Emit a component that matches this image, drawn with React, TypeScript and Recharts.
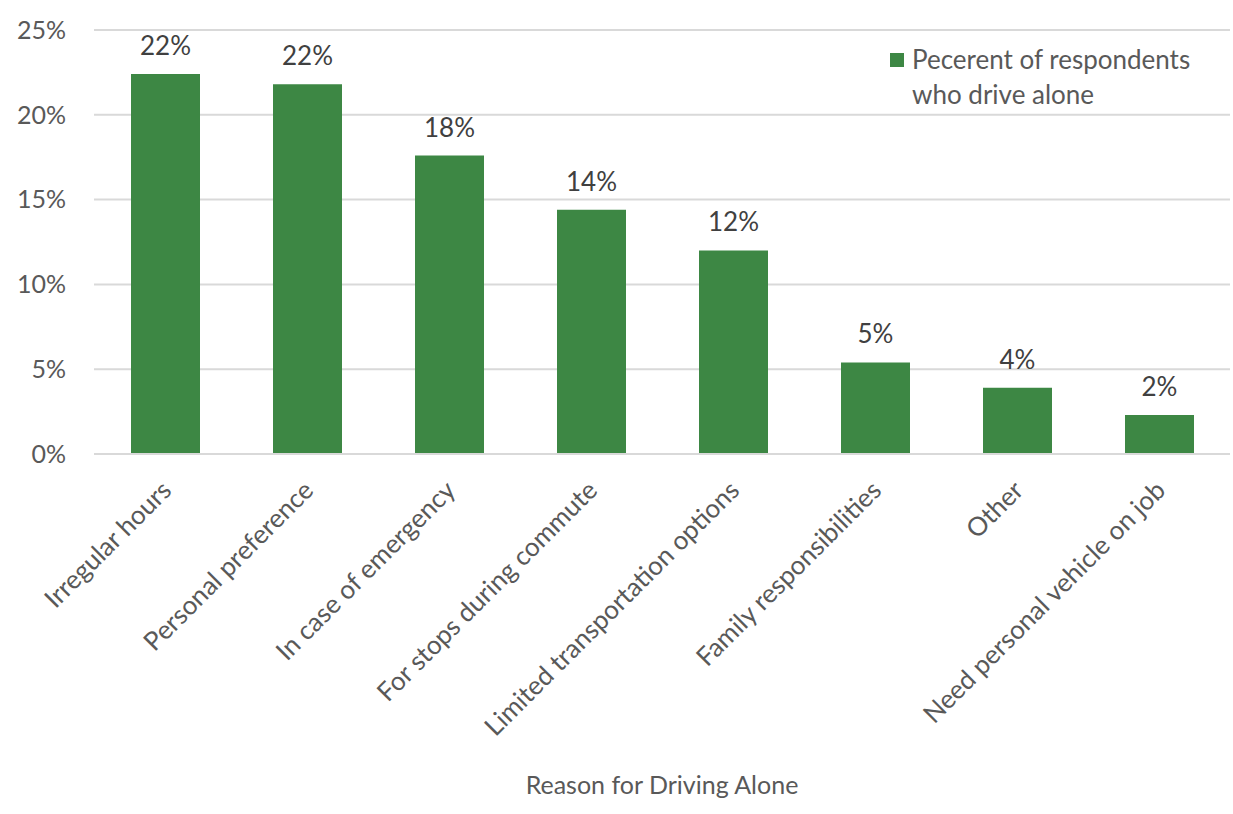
import { Bar, BarChart, CartesianGrid, LabelList, XAxis, YAxis } from "recharts";

const reasons = [
  "Irregular hours",
  "Personal preference",
  "In case of emergency",
  "For stops during commute",
  "Limited transportation options",
  "Family responsibilities",
  "Other",
  "Need personal vehicle on job",
];
const percentDriveAlone = [22.4, 21.8, 17.6, 14.4, 12.0, 5.4, 3.9, 2.3];
const yTicks = [0, 5, 10, 15, 20, 25];

const data = reasons.map((name, i) => ({ name, value: percentDriveAlone[i] }));

const FONT = "Lato, 'Open Sans', sans-serif";
const GREEN = "#3d8744";

const CategoryTick = ({ x, y, payload }: any) => (
  <text
    x={x + 8}
    y={y + 30}
    transform={`rotate(-45, ${x + 8}, ${y + 30})`}
    textAnchor="end"
    fontSize={26}
    fill="#595959"
    fontFamily={FONT}
  >
    {payload.value}
  </text>
);

export default function App() {
  return (
    <div style={{ position: "absolute", left: 0, top: 0, width: 1233, height: 814, background: "#fff" }}>
      <BarChart
        width={1233}
        height={814}
        data={data}
        margin={{ top: 30, right: 3, left: 0, bottom: 0 }}
        barCategoryGap="0%"
      >
        <CartesianGrid vertical={false} stroke="#d9d9d9" strokeWidth={2} />
        <XAxis
          dataKey="name"
          interval={0}
          tickLine={false}
          axisLine={{ stroke: "#d9d9d9", strokeWidth: 2 }}
          tick={<CategoryTick />}
          height={360}
          label={{
            value: "Reason for Driving Alone",
            position: "insideBottom",
            offset: 20,
            fontSize: 25,
            fill: "#595959",
            fontFamily: FONT,
          }}
        />
        <YAxis
          domain={[0, 25]}
          ticks={yTicks}
          tickFormatter={(v: number) => `${v}%`}
          axisLine={false}
          tickLine={false}
          tickSize={0}
          tickMargin={28}
          width={94}
          tick={{ fontSize: 25, fill: "#595959", fontFamily: FONT }}
        />
        <Bar dataKey="value" fill={GREEN} barSize={69} isAnimationActive={false}>
          <LabelList
            dataKey="value"
            position="top"
            offset={19}
            formatter={(v: number) => `${Math.round(v)}%`}
            style={{ fontSize: 26, fill: "#404040", fontFamily: FONT }}
          />
        </Bar>
      </BarChart>
      <div
        style={{
          position: "absolute",
          left: 890,
          top: 42,
          display: "flex",
          fontFamily: FONT,
          fontSize: 26,
          color: "#595959",
          lineHeight: "35px",
        }}
      >
        <div style={{ width: 14, height: 14, background: GREEN, marginTop: 11, marginRight: 8 }} />
        <div>
          Pecerent of respondents
          <br />
          who drive alone
        </div>
      </div>
    </div>
  );
}
